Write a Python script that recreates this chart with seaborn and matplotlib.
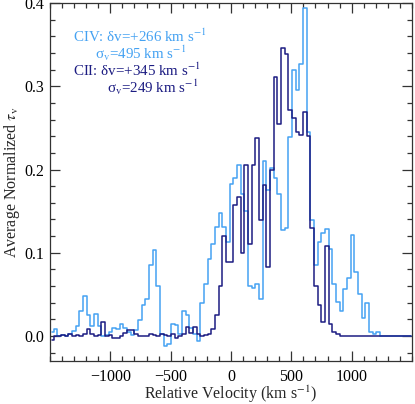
import numpy as np
import pandas as pd
import matplotlib
matplotlib.use("Agg")
import matplotlib.pyplot as plt
import seaborn as sns
from matplotlib.ticker import MultipleLocator

# ---- data ----
bin_start = -1485.0   # km/s, first bin centre
bin_step = 30.4       # km/s
civ_tau = [0.005, 0.008, 0.0, 0.001, 0.0, 0.002, 0.006, 0.012, 0.030, 0.048,
           0.025, 0.012, 0.027, 0.012, 0.0, 0.001, 0.005, 0.010, 0.009, 0.014,
           0.010, 0.005, 0.001, 0.007, 0.019, 0.037, 0.045, 0.085, 0.103, 0.060,
           0.002, -0.012, -0.009, 0.015, 0.013, 0.002, 0.030, 0.025, 0.010, 0.003,
           -0.006, 0.040, 0.062, 0.093, 0.111, 0.131, 0.148, 0.131, 0.113, 0.183,
           0.190, 0.205, 0.170, 0.150, 0.060, 0.058, 0.062, 0.044, 0.210, 0.175,
           0.202, 0.190, 0.170, 0.127, 0.130, 0.239, 0.320, 0.295, 0.327, 0.394,
           0.245, 0.139, 0.085, 0.113, 0.124, 0.129, 0.104, 0.063, 0.041, 0.030,
           0.057, 0.070, 0.121, 0.077, 0.050, 0.022, 0.040, 0.005, 0.002, 0.005,
           0.0, 0.0, 0.0, 0.0, 0.0, 0.0, 0.0, 0.0, 0.0]
cii_tau = [-0.005, 0.0, 0.0, 0.001, 0.0, 0.002, 0.0, 0.001, 0.0, 0.002,
           0.008, 0.003, 0.0, 0.001, 0.017, 0.0, 0.001, -0.002, -0.002, 0.0,
           0.004, 0.007, 0.007, 0.003, 0.0, 0.0, 0.0, 0.003, 0.001, 0.0,
           0.003, 0.001, 0.0, 0.003, -0.002, 0.0, 0.003, 0.011, 0.004, 0.011,
           0.003, 0.0, 0.001, 0.003, 0.009, 0.025, 0.060, 0.120, 0.089, 0.089,
           0.157, 0.167, 0.100, 0.206, 0.111, 0.205, 0.238, 0.139, 0.181, 0.083,
           0.200, 0.311, 0.255, 0.346, 0.339, 0.272, 0.262, 0.245, 0.241, 0.269,
           0.240, 0.130, 0.060, 0.037, 0.017, 0.108, 0.014, 0.005, 0.003, 0.0,
           0.0, 0.0, 0.0, 0.0, 0.0, 0.0, 0.0, 0.0, 0.0, 0.0,
           0.0, 0.0, 0.0, 0.0, 0.0, 0.0, 0.0, 0.0, 0.0]
velocity = bin_start + bin_step * np.arange(len(civ_tau))

civ_label = ["CIV: δv=+266 km s$^{-1}$", "σ$_{\\mathrm{v}}$=495 km s$^{-1}$"]
cii_label = ["CII: δv=+345 km s$^{-1}$", "σ$_{\\mathrm{v}}$=249 km s$^{-1}$"]
xticks = [-1000, -500, 0, 500, 1000]
yticks = [0.0, 0.1, 0.2, 0.3, 0.4]

df = pd.DataFrame({"v": np.concatenate([velocity, velocity]),
                   "tau": civ_tau + cii_tau,
                   "ion": ["CIV"] * len(civ_tau) + ["CII"] * len(cii_tau)})

# ---- style ----
sns.set_style("ticks")
plt.rcParams["font.family"] = ["Liberation Serif", "DejaVu Serif"]
plt.rcParams["mathtext.fontset"] = "stix"

c_civ = "#45a2f2"
c_cii = "#1c1c82"

fig = plt.figure(figsize=(4.15, 4.04), dpi=100)
ax = fig.add_axes([50 / 415, 1 - 361 / 404, 362 / 415, 358 / 404])

sns.lineplot(data=df[df.ion == "CIV"], x="v", y="tau", ax=ax, color=c_civ,
             lw=1.1, drawstyle="steps-mid", estimator=None)
sns.lineplot(data=df[df.ion == "CII"], x="v", y="tau", ax=ax, color=c_cii,
             lw=1.1, drawstyle="steps-mid", estimator=None)

ax.set_xlim(-1500, 1500)
ax.set_ylim(-0.03, 0.4)
ax.set_xticks(xticks)
ax.set_xticklabels(["\u22121000", "\u2212500", "0", "500", "1000"])
ax.set_yticks(yticks)
ax.set_yticklabels([f"{t:.1f}" for t in yticks])
ax.xaxis.set_minor_locator(MultipleLocator(100))
ax.yaxis.set_minor_locator(MultipleLocator(0.02))
ax.tick_params(which="both", direction="in", top=True, right=True,
               colors="#333333", labelcolor="black", labelsize=11.5, width=0.9)
ax.tick_params(which="major", length=7)
ax.tick_params(which="minor", length=3.5)
ax.tick_params(axis="x", pad=6)
ax.tick_params(axis="y", pad=4)
for s in ax.spines.values():
    s.set_color("#333333")
    s.set_linewidth(0.9)

ax.set_xlabel("Relative Velocity (km s$^{-1}$)", fontsize=11.5, labelpad=-1)
ax.set_ylabel("Average Normalized $\\tau_{\\mathrm{v}}$", fontsize=11.5, labelpad=2)

fs = 10.8
ax.text(0.0635, 0.892, civ_label[0], transform=ax.transAxes, color=c_civ,
        fontsize=fs, va="baseline")
ax.text(0.124, 0.843, civ_label[1], transform=ax.transAxes, color=c_civ,
        fontsize=fs, va="baseline")
ax.text(0.0645, 0.796, cii_label[0], transform=ax.transAxes, color=c_cii,
        fontsize=fs, va="baseline")
ax.text(0.157, 0.749, cii_label[1], transform=ax.transAxes, color=c_cii,
        fontsize=fs, va="baseline")

fig.savefig("out.png", dpi=100)
